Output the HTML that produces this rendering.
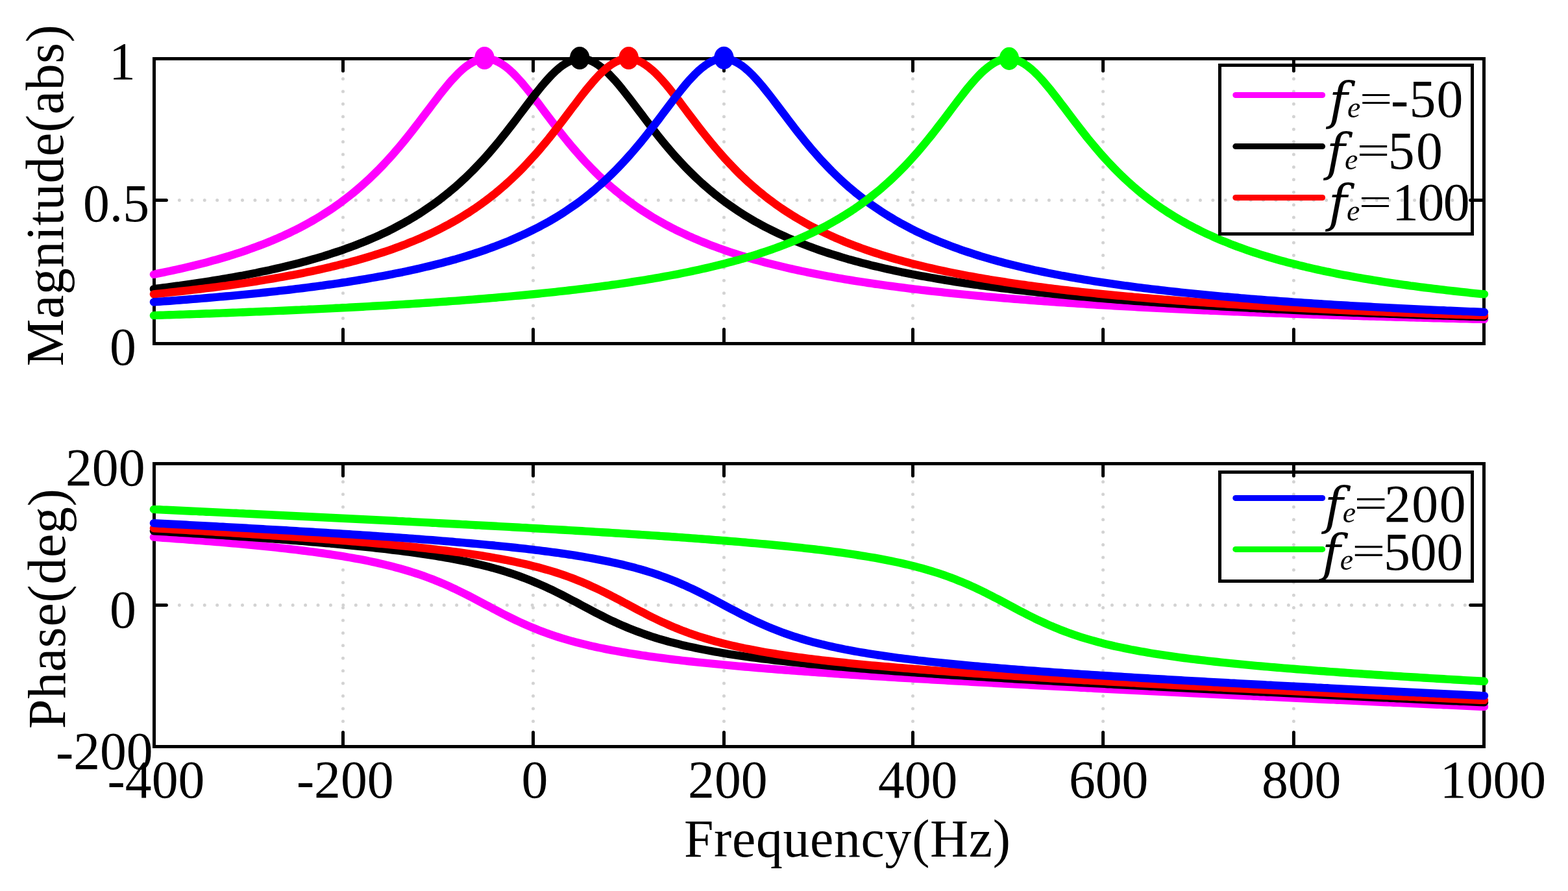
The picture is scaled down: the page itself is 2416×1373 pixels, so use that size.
<!DOCTYPE html>
<html lang="en"><head><meta charset="utf-8"><title>Frequency response</title>
<style>
html,body{margin:0;padding:0;background:#fff;}
body{width:2416px;height:1373px;overflow:hidden;}
svg{display:block;font-family:"Liberation Serif", "DejaVu Serif", serif;fill:#000;}
.it{font-style:italic;}
.fi{font-style:italic;font-family:"DejaVu Serif","Liberation Serif",serif;}
.g{stroke:#d3d3d3;stroke-width:5;stroke-linecap:round;stroke-dasharray:0 19.42;fill:none;}
.ax{stroke:#000;stroke-width:5;fill:none;}
.tk{stroke:#000;stroke-width:5;stroke-linecap:round;}
.ls{stroke-width:9;stroke-linecap:round;}
.cv polyline{fill:none;stroke-width:12.4;stroke-linecap:round;stroke-linejoin:round;}
</style></head>
<body>
<svg width="2416" height="1373" viewBox="0 0 2416 1373">
<rect width="2416" height="1373" fill="#fff"/>
<g id="mag">
<line x1="528.5" y1="121.50" x2="528.5" y2="490.98" class="g"/>
<line x1="821.5" y1="121.50" x2="821.5" y2="490.98" class="g"/>
<line x1="1115.5" y1="121.50" x2="1115.5" y2="490.98" class="g"/>
<line x1="1406.5" y1="121.50" x2="1406.5" y2="490.98" class="g"/>
<line x1="1699.6" y1="121.50" x2="1699.6" y2="490.98" class="g"/>
<line x1="1993.4" y1="121.50" x2="1993.4" y2="490.98" class="g"/>
<line x1="276.40" y1="308.5" x2="2257.74" y2="308.5" class="g"/>
<rect x="237.5" y="90.5" width="2049.0" height="439.0" class="ax"/>
<line x1="528.5" y1="90.5" x2="528.5" y2="109.2" class="tk"/>
<line x1="528.5" y1="529.5" x2="528.5" y2="507.5" class="tk"/>
<line x1="821.5" y1="90.5" x2="821.5" y2="109.2" class="tk"/>
<line x1="821.5" y1="529.5" x2="821.5" y2="507.5" class="tk"/>
<line x1="1115.5" y1="90.5" x2="1115.5" y2="109.2" class="tk"/>
<line x1="1115.5" y1="529.5" x2="1115.5" y2="507.5" class="tk"/>
<line x1="1406.5" y1="90.5" x2="1406.5" y2="109.2" class="tk"/>
<line x1="1406.5" y1="529.5" x2="1406.5" y2="507.5" class="tk"/>
<line x1="1699.6" y1="90.5" x2="1699.6" y2="109.2" class="tk"/>
<line x1="1699.6" y1="529.5" x2="1699.6" y2="507.5" class="tk"/>
<line x1="1993.4" y1="90.5" x2="1993.4" y2="109.2" class="tk"/>
<line x1="1993.4" y1="529.5" x2="1993.4" y2="507.5" class="tk"/>
<line x1="237.5" y1="308.5" x2="256.4" y2="308.5" class="tk"/>
<line x1="2286.5" y1="308.5" x2="2265.6" y2="308.5" class="tk"/>
<g class="cv">
<polyline stroke="#ff00ff" points="236.9,422.9 241.0,421.9 246.2,420.9 251.3,419.9 256.4,418.8 261.5,417.7 266.6,416.6 271.8,415.5 276.9,414.4 282.0,413.2 287.1,412.0 292.3,410.8 297.4,409.6 302.5,408.3 307.6,407.0 312.8,405.7 317.9,404.4 323.0,403.0 328.1,401.6 333.3,400.2 338.4,398.7 343.5,397.2 348.6,395.7 353.8,394.2 358.9,392.6 364.0,390.9 369.1,389.3 374.3,387.6 379.4,385.8 384.5,384.0 389.6,382.2 394.8,380.3 399.9,378.4 405.0,376.4 410.1,374.4 415.3,372.4 420.4,370.2 425.5,368.1 430.6,365.8 435.8,363.6 440.9,361.2 446.0,358.8 451.1,356.3 456.3,353.8 461.4,351.2 466.5,348.5 471.6,345.8 476.8,342.9 481.9,340.0 487.0,337.0 492.1,334.0 497.3,330.8 502.4,327.5 507.5,324.2 512.6,320.8 517.8,317.2 522.9,313.6 528.0,309.8 533.1,305.9 538.3,301.9 543.4,297.8 548.5,293.6 553.6,289.3 558.8,284.8 563.9,280.2 569.0,275.4 574.1,270.6 579.3,265.5 584.4,260.4 589.5,255.1 594.6,249.6 599.8,244.0 604.9,238.3 610.0,232.4 615.1,226.4 620.3,220.2 625.4,214.0 630.5,207.6 635.6,201.1 640.8,194.4 645.9,187.8 651.0,181.0 656.1,174.2 661.3,167.4 666.4,160.6 671.5,153.9 676.6,147.2 681.8,140.7 686.9,134.4 692.0,128.2 697.1,122.4 702.3,116.9 707.4,111.7 712.5,107.0 717.6,102.8 722.8,99.2 727.9,96.1 733.0,93.7 738.1,91.9 743.3,90.9 748.4,90.5 753.5,90.9 758.6,91.9 763.8,93.7 768.9,96.1 774.0,99.2 779.1,102.8 784.3,107.0 789.4,111.7 794.5,116.9 799.6,122.4 804.8,128.2 809.9,134.4 815.0,140.7 820.1,147.2 825.3,153.9 830.4,160.6 835.5,167.4 840.6,174.2 845.8,181.0 850.9,187.8 856.0,194.4 861.1,201.1 866.3,207.6 871.4,214.0 876.5,220.2 881.6,226.4 886.8,232.4 891.9,238.3 897.0,244.0 902.1,249.6 907.3,255.1 912.4,260.4 917.5,265.5 922.6,270.6 927.8,275.4 932.9,280.2 938.0,284.8 943.1,289.3 948.3,293.6 953.4,297.8 958.5,301.9 963.6,305.9 968.8,309.8 973.9,313.6 979.0,317.2 984.1,320.8 989.3,324.2 994.4,327.5 999.5,330.8 1004.6,334.0 1009.8,337.0 1014.9,340.0 1020.0,342.9 1025.2,345.8 1030.3,348.5 1035.4,351.2 1040.5,353.8 1045.7,356.3 1050.8,358.8 1055.9,361.2 1061.0,363.6 1066.2,365.8 1071.3,368.1 1076.4,370.2 1081.5,372.4 1086.7,374.4 1091.8,376.4 1096.9,378.4 1102.0,380.3 1107.2,382.2 1112.3,384.0 1117.4,385.8 1122.5,387.6 1127.7,389.3 1132.8,390.9 1137.9,392.6 1143.0,394.2 1148.2,395.7 1153.3,397.2 1158.4,398.7 1163.5,400.2 1168.7,401.6 1173.8,403.0 1178.9,404.4 1184.0,405.7 1189.2,407.0 1194.3,408.3 1199.4,409.6 1204.5,410.8 1209.7,412.0 1214.8,413.2 1219.9,414.4 1225.0,415.5 1230.2,416.6 1235.3,417.7 1240.4,418.8 1245.5,419.9 1250.7,420.9 1255.8,421.9 1260.9,422.9 1266.0,423.9 1271.2,424.9 1276.3,425.8 1281.4,426.7 1286.5,427.7 1291.7,428.6 1296.8,429.4 1301.9,430.3 1307.0,431.2 1312.2,432.0 1317.3,432.8 1322.4,433.6 1327.5,434.4 1332.7,435.2 1337.8,436.0 1342.9,436.7 1348.0,437.5 1353.2,438.2 1358.3,438.9 1363.4,439.7 1368.5,440.4 1373.7,441.0 1378.8,441.7 1383.9,442.4 1389.0,443.0 1394.2,443.7 1399.3,444.3 1404.4,445.0 1409.5,445.6 1414.7,446.2 1419.8,446.8 1424.9,447.4 1430.0,448.0 1435.2,448.6 1440.3,449.1 1445.4,449.7 1450.5,450.2 1455.7,450.8 1460.8,451.3 1465.9,451.9 1471.0,452.4 1476.2,452.9 1481.3,453.4 1486.4,453.9 1491.5,454.4 1496.7,454.9 1501.8,455.4 1506.9,455.9 1512.0,456.3 1517.2,456.8 1522.3,457.3 1527.4,457.7 1532.5,458.2 1537.7,458.6 1542.8,459.0 1547.9,459.5 1553.0,459.9 1558.2,460.3 1563.3,460.7 1568.4,461.1 1573.5,461.5 1578.7,461.9 1583.8,462.3 1588.9,462.7 1594.0,463.1 1599.2,463.5 1604.3,463.9 1609.4,464.3 1614.5,464.6 1619.7,465.0 1624.8,465.3 1629.9,465.7 1635.0,466.1 1640.2,466.4 1645.3,466.8 1650.4,467.1 1655.5,467.4 1660.7,467.8 1665.8,468.1 1670.9,468.4 1676.0,468.7 1681.2,469.1 1686.3,469.4 1691.4,469.7 1696.5,470.0 1701.7,470.3 1706.8,470.6 1711.9,470.9 1717.0,471.2 1722.2,471.5 1727.3,471.8 1732.4,472.1 1737.5,472.4 1742.7,472.6 1747.8,472.9 1752.9,473.2 1758.0,473.5 1763.2,473.8 1768.3,474.0 1773.4,474.3 1778.5,474.5 1783.7,474.8 1788.8,475.1 1793.9,475.3 1799.0,475.6 1804.2,475.8 1809.3,476.1 1814.4,476.3 1819.5,476.6 1824.7,476.8 1829.8,477.0 1834.9,477.3 1840.0,477.5 1845.2,477.8 1850.3,478.0 1855.4,478.2 1860.5,478.4 1865.7,478.7 1870.8,478.9 1875.9,479.1 1881.0,479.3 1886.2,479.5 1891.3,479.8 1896.4,480.0 1901.5,480.2 1906.7,480.4 1911.8,480.6 1916.9,480.8 1922.0,481.0 1927.2,481.2 1932.3,481.4 1937.4,481.6 1942.5,481.8 1947.7,482.0 1952.8,482.2 1957.9,482.4 1963.0,482.6 1968.2,482.8 1973.3,482.9 1978.4,483.1 1983.5,483.3 1988.7,483.5 1993.8,483.7 1998.9,483.9 2004.0,484.0 2009.2,484.2 2014.3,484.4 2019.4,484.6 2024.5,484.7 2029.7,484.9 2034.8,485.1 2039.9,485.2 2045.0,485.4 2050.2,485.6 2055.3,485.7 2060.4,485.9 2065.5,486.1 2070.7,486.2 2075.8,486.4 2080.9,486.6 2086.0,486.7 2091.2,486.9 2096.3,487.0 2101.4,487.2 2106.5,487.3 2111.7,487.5 2116.8,487.6 2121.9,487.8 2127.0,487.9 2132.2,488.1 2137.3,488.2 2142.4,488.4 2147.5,488.5 2152.7,488.7 2157.8,488.8 2162.9,488.9 2168.0,489.1 2173.2,489.2 2178.3,489.4 2183.4,489.5 2188.5,489.6 2193.7,489.8 2198.8,489.9 2203.9,490.0 2209.0,490.2 2214.2,490.3 2219.3,490.4 2224.4,490.6 2229.5,490.7 2234.7,490.8 2239.8,490.9 2244.9,491.1 2250.0,491.2 2255.2,491.3 2260.3,491.4 2265.4,491.6 2270.5,491.7 2275.7,491.8 2280.8,491.9 2287.0,492.0"/>
<polyline stroke="#000000" points="236.9,445.3 241.0,444.7 246.2,444.1 251.3,443.4 256.4,442.8 261.5,442.1 266.6,441.4 271.8,440.7 276.9,440.1 282.0,439.3 287.1,438.6 292.3,437.9 297.4,437.2 302.5,436.4 307.6,435.6 312.8,434.9 317.9,434.1 323.0,433.3 328.1,432.5 333.3,431.6 338.4,430.8 343.5,429.9 348.6,429.1 353.8,428.2 358.9,427.3 364.0,426.3 369.1,425.4 374.3,424.5 379.4,423.5 384.5,422.5 389.6,421.5 394.8,420.5 399.9,419.4 405.0,418.3 410.1,417.3 415.3,416.2 420.4,415.0 425.5,413.9 430.6,412.7 435.8,411.5 440.9,410.3 446.0,409.0 451.1,407.8 456.3,406.5 461.4,405.2 466.5,403.8 471.6,402.4 476.8,401.0 481.9,399.6 487.0,398.1 492.1,396.6 497.3,395.1 502.4,393.5 507.5,391.9 512.6,390.2 517.8,388.5 522.9,386.8 528.0,385.1 533.1,383.2 538.3,381.4 543.4,379.5 548.5,377.6 553.6,375.6 558.8,373.5 563.9,371.5 569.0,369.3 574.1,367.1 579.3,364.9 584.4,362.6 589.5,360.2 594.6,357.8 599.8,355.3 604.9,352.7 610.0,350.0 615.1,347.3 620.3,344.6 625.4,341.7 630.5,338.8 635.6,335.7 640.8,332.6 645.9,329.4 651.0,326.1 656.1,322.7 661.3,319.2 666.4,315.7 671.5,312.0 676.6,308.2 681.8,304.2 686.9,300.2 692.0,296.1 697.1,291.8 702.3,287.4 707.4,282.8 712.5,278.2 717.6,273.4 722.8,268.4 727.9,263.4 733.0,258.1 738.1,252.8 743.3,247.3 748.4,241.6 753.5,235.8 758.6,229.9 763.8,223.8 768.9,217.6 774.0,211.2 779.1,204.8 784.3,198.2 789.4,191.6 794.5,184.9 799.6,178.1 804.8,171.3 809.9,164.5 815.0,157.7 820.1,151.0 825.3,144.4 830.4,138.0 835.5,131.7 840.6,125.7 845.8,120.0 850.9,114.6 856.0,109.6 861.1,105.2 866.3,101.2 871.4,97.8 876.5,95.0 881.6,92.8 886.8,91.4 891.9,90.6 897.0,90.6 902.1,91.2 907.3,92.6 912.4,94.6 917.5,97.3 922.6,100.7 927.8,104.6 932.9,109.0 938.0,113.9 943.1,119.2 948.3,124.8 953.4,130.8 958.5,137.0 963.6,143.5 968.8,150.1 973.9,156.8 979.0,163.5 984.1,170.3 989.3,177.1 994.4,183.9 999.5,190.6 1004.6,197.3 1009.8,203.9 1014.9,210.3 1020.0,216.7 1025.2,222.9 1030.3,229.0 1035.4,235.0 1040.5,240.8 1045.7,246.5 1050.8,252.0 1055.9,257.4 1061.0,262.6 1066.2,267.7 1071.3,272.7 1076.4,277.5 1081.5,282.2 1086.7,286.7 1091.8,291.2 1096.9,295.4 1102.0,299.6 1107.2,303.7 1112.3,307.6 1117.4,311.4 1122.5,315.1 1127.7,318.7 1132.8,322.2 1137.9,325.6 1143.0,328.9 1148.2,332.2 1153.3,335.3 1158.4,338.3 1163.5,341.3 1168.7,344.2 1173.8,346.9 1178.9,349.7 1184.0,352.3 1189.2,354.9 1194.3,357.4 1199.4,359.8 1204.5,362.2 1209.7,364.5 1214.8,366.8 1219.9,369.0 1225.0,371.2 1230.2,373.2 1235.3,375.3 1240.4,377.3 1245.5,379.2 1250.7,381.1 1255.8,383.0 1260.9,384.8 1266.0,386.6 1271.2,388.3 1276.3,390.0 1281.4,391.6 1286.5,393.2 1291.7,394.8 1296.8,396.4 1301.9,397.9 1307.0,399.4 1312.2,400.8 1317.3,402.2 1322.4,403.6 1327.5,405.0 1332.7,406.3 1337.8,407.6 1342.9,408.9 1348.0,410.1 1353.2,411.3 1358.3,412.5 1363.4,413.7 1368.5,414.9 1373.7,416.0 1378.8,417.1 1383.9,418.2 1389.0,419.3 1394.2,420.3 1399.3,421.3 1404.4,422.4 1409.5,423.3 1414.7,424.3 1419.8,425.3 1424.9,426.2 1430.0,427.1 1435.2,428.0 1440.3,428.9 1445.4,429.8 1450.5,430.7 1455.7,431.5 1460.8,432.3 1465.9,433.2 1471.0,434.0 1476.2,434.8 1481.3,435.5 1486.4,436.3 1491.5,437.1 1496.7,437.8 1501.8,438.5 1506.9,439.2 1512.0,440.0 1517.2,440.6 1522.3,441.3 1527.4,442.0 1532.5,442.7 1537.7,443.3 1542.8,444.0 1547.9,444.6 1553.0,445.2 1558.2,445.9 1563.3,446.5 1568.4,447.1 1573.5,447.6 1578.7,448.2 1583.8,448.8 1588.9,449.4 1594.0,449.9 1599.2,450.5 1604.3,451.0 1609.4,451.6 1614.5,452.1 1619.7,452.6 1624.8,453.1 1629.9,453.6 1635.0,454.1 1640.2,454.6 1645.3,455.1 1650.4,455.6 1655.5,456.1 1660.7,456.5 1665.8,457.0 1670.9,457.4 1676.0,457.9 1681.2,458.3 1686.3,458.8 1691.4,459.2 1696.5,459.6 1701.7,460.1 1706.8,460.5 1711.9,460.9 1717.0,461.3 1722.2,461.7 1727.3,462.1 1732.4,462.5 1737.5,462.9 1742.7,463.3 1747.8,463.7 1752.9,464.0 1758.0,464.4 1763.2,464.8 1768.3,465.1 1773.4,465.5 1778.5,465.9 1783.7,466.2 1788.8,466.6 1793.9,466.9 1799.0,467.2 1804.2,467.6 1809.3,467.9 1814.4,468.2 1819.5,468.6 1824.7,468.9 1829.8,469.2 1834.9,469.5 1840.0,469.8 1845.2,470.1 1850.3,470.4 1855.4,470.7 1860.5,471.0 1865.7,471.3 1870.8,471.6 1875.9,471.9 1881.0,472.2 1886.2,472.5 1891.3,472.8 1896.4,473.0 1901.5,473.3 1906.7,473.6 1911.8,473.9 1916.9,474.1 1922.0,474.4 1927.2,474.7 1932.3,474.9 1937.4,475.2 1942.5,475.4 1947.7,475.7 1952.8,475.9 1957.9,476.2 1963.0,476.4 1968.2,476.7 1973.3,476.9 1978.4,477.1 1983.5,477.4 1988.7,477.6 1993.8,477.8 1998.9,478.1 2004.0,478.3 2009.2,478.5 2014.3,478.8 2019.4,479.0 2024.5,479.2 2029.7,479.4 2034.8,479.6 2039.9,479.8 2045.0,480.1 2050.2,480.3 2055.3,480.5 2060.4,480.7 2065.5,480.9 2070.7,481.1 2075.8,481.3 2080.9,481.5 2086.0,481.7 2091.2,481.9 2096.3,482.1 2101.4,482.3 2106.5,482.5 2111.7,482.7 2116.8,482.8 2121.9,483.0 2127.0,483.2 2132.2,483.4 2137.3,483.6 2142.4,483.8 2147.5,483.9 2152.7,484.1 2157.8,484.3 2162.9,484.5 2168.0,484.6 2173.2,484.8 2178.3,485.0 2183.4,485.2 2188.5,485.3 2193.7,485.5 2198.8,485.7 2203.9,485.8 2209.0,486.0 2214.2,486.1 2219.3,486.3 2224.4,486.5 2229.5,486.6 2234.7,486.8 2239.8,486.9 2244.9,487.1 2250.0,487.2 2255.2,487.4 2260.3,487.5 2265.4,487.7 2270.5,487.8 2275.7,488.0 2280.8,488.1 2287.0,488.3"/>
<polyline stroke="#ff0000" points="236.9,453.3 241.0,452.8 246.2,452.3 251.3,451.8 256.4,451.3 261.5,450.7 266.6,450.2 271.8,449.6 276.9,449.0 282.0,448.5 287.1,447.9 292.3,447.3 297.4,446.7 302.5,446.1 307.6,445.5 312.8,444.9 317.9,444.2 323.0,443.6 328.1,443.0 333.3,442.3 338.4,441.6 343.5,440.9 348.6,440.3 353.8,439.5 358.9,438.8 364.0,438.1 369.1,437.4 374.3,436.6 379.4,435.9 384.5,435.1 389.6,434.3 394.8,433.5 399.9,432.7 405.0,431.9 410.1,431.0 415.3,430.2 420.4,429.3 425.5,428.4 430.6,427.5 435.8,426.6 440.9,425.7 446.0,424.7 451.1,423.8 456.3,422.8 461.4,421.8 466.5,420.8 471.6,419.7 476.8,418.7 481.9,417.6 487.0,416.5 492.1,415.4 497.3,414.2 502.4,413.0 507.5,411.9 512.6,410.6 517.8,409.4 522.9,408.1 528.0,406.8 533.1,405.5 538.3,404.2 543.4,402.8 548.5,401.4 553.6,400.0 558.8,398.5 563.9,397.0 569.0,395.5 574.1,393.9 579.3,392.3 584.4,390.7 589.5,389.0 594.6,387.3 599.8,385.6 604.9,383.8 610.0,381.9 615.1,380.1 620.3,378.1 625.4,376.2 630.5,374.1 635.6,372.1 640.8,369.9 645.9,367.8 651.0,365.5 656.1,363.2 661.3,360.9 666.4,358.5 671.5,356.0 676.6,353.4 681.8,350.8 686.9,348.1 692.0,345.4 697.1,342.5 702.3,339.6 707.4,336.6 712.5,333.5 717.6,330.3 722.8,327.1 727.9,323.7 733.0,320.3 738.1,316.7 743.3,313.0 748.4,309.3 753.5,305.4 758.6,301.4 763.8,297.3 768.9,293.0 774.0,288.6 779.1,284.2 784.3,279.5 789.4,274.8 794.5,269.9 799.6,264.8 804.8,259.6 809.9,254.3 815.0,248.8 820.1,243.2 825.3,237.5 830.4,231.6 835.5,225.5 840.6,219.4 845.8,213.1 850.9,206.6 856.0,200.1 861.1,193.5 866.3,186.8 871.4,180.0 876.5,173.2 881.6,166.4 886.8,159.7 891.9,152.9 897.0,146.3 902.1,139.8 907.3,133.5 912.4,127.4 917.5,121.6 922.6,116.1 927.8,111.0 932.9,106.4 938.0,102.3 943.1,98.7 948.3,95.7 953.4,93.4 958.5,91.7 963.6,90.8 968.8,90.5 973.9,91.0 979.0,92.1 984.1,94.0 989.3,96.5 994.4,99.7 999.5,103.4 1004.6,107.7 1009.8,112.4 1014.9,117.6 1020.0,123.2 1025.2,129.1 1030.3,135.2 1035.4,141.6 1040.5,148.2 1045.7,154.8 1050.8,161.6 1055.9,168.4 1061.0,175.2 1066.2,182.0 1071.3,188.7 1076.4,195.4 1081.5,202.0 1086.7,208.5 1091.8,214.9 1096.9,221.1 1102.0,227.3 1107.2,233.3 1112.3,239.1 1117.4,244.8 1122.5,250.4 1127.7,255.8 1132.8,261.1 1137.9,266.3 1143.0,271.3 1148.2,276.1 1153.3,280.9 1158.4,285.4 1163.5,289.9 1168.7,294.2 1173.8,298.4 1178.9,302.5 1184.0,306.5 1189.2,310.3 1194.3,314.1 1199.4,317.7 1204.5,321.3 1209.7,324.7 1214.8,328.0 1219.9,331.3 1225.0,334.4 1230.2,337.5 1235.3,340.4 1240.4,343.3 1245.5,346.2 1250.7,348.9 1255.8,351.6 1260.9,354.2 1266.0,356.7 1271.2,359.1 1276.3,361.5 1281.4,363.9 1286.5,366.2 1291.7,368.4 1296.8,370.5 1301.9,372.7 1307.0,374.7 1312.2,376.7 1317.3,378.7 1322.4,380.6 1327.5,382.5 1332.7,384.3 1337.8,386.1 1342.9,387.8 1348.0,389.5 1353.2,391.2 1358.3,392.8 1363.4,394.4 1368.5,395.9 1373.7,397.5 1378.8,398.9 1383.9,400.4 1389.0,401.8 1394.2,403.2 1399.3,404.6 1404.4,405.9 1409.5,407.2 1414.7,408.5 1419.8,409.8 1424.9,411.0 1430.0,412.2 1435.2,413.4 1440.3,414.5 1445.4,415.7 1450.5,416.8 1455.7,417.9 1460.8,419.0 1465.9,420.0 1471.0,421.0 1476.2,422.1 1481.3,423.1 1486.4,424.0 1491.5,425.0 1496.7,425.9 1501.8,426.9 1506.9,427.8 1512.0,428.7 1517.2,429.6 1522.3,430.4 1527.4,431.3 1532.5,432.1 1537.7,432.9 1542.8,433.7 1547.9,434.5 1553.0,435.3 1558.2,436.1 1563.3,436.8 1568.4,437.6 1573.5,438.3 1578.7,439.0 1583.8,439.8 1588.9,440.5 1594.0,441.1 1599.2,441.8 1604.3,442.5 1609.4,443.1 1614.5,443.8 1619.7,444.4 1624.8,445.1 1629.9,445.7 1635.0,446.3 1640.2,446.9 1645.3,447.5 1650.4,448.1 1655.5,448.6 1660.7,449.2 1665.8,449.8 1670.9,450.3 1676.0,450.9 1681.2,451.4 1686.3,451.9 1691.4,452.5 1696.5,453.0 1701.7,453.5 1706.8,454.0 1711.9,454.5 1717.0,455.0 1722.2,455.5 1727.3,455.9 1732.4,456.4 1737.5,456.9 1742.7,457.3 1747.8,457.8 1752.9,458.2 1758.0,458.7 1763.2,459.1 1768.3,459.5 1773.4,460.0 1778.5,460.4 1783.7,460.8 1788.8,461.2 1793.9,461.6 1799.0,462.0 1804.2,462.4 1809.3,462.8 1814.4,463.2 1819.5,463.6 1824.7,463.9 1829.8,464.3 1834.9,464.7 1840.0,465.0 1845.2,465.4 1850.3,465.8 1855.4,466.1 1860.5,466.5 1865.7,466.8 1870.8,467.1 1875.9,467.5 1881.0,467.8 1886.2,468.1 1891.3,468.5 1896.4,468.8 1901.5,469.1 1906.7,469.4 1911.8,469.7 1916.9,470.0 1922.0,470.4 1927.2,470.7 1932.3,471.0 1937.4,471.3 1942.5,471.5 1947.7,471.8 1952.8,472.1 1957.9,472.4 1963.0,472.7 1968.2,473.0 1973.3,473.2 1978.4,473.5 1983.5,473.8 1988.7,474.1 1993.8,474.3 1998.9,474.6 2004.0,474.8 2009.2,475.1 2014.3,475.4 2019.4,475.6 2024.5,475.9 2029.7,476.1 2034.8,476.4 2039.9,476.6 2045.0,476.8 2050.2,477.1 2055.3,477.3 2060.4,477.6 2065.5,477.8 2070.7,478.0 2075.8,478.2 2080.9,478.5 2086.0,478.7 2091.2,478.9 2096.3,479.1 2101.4,479.4 2106.5,479.6 2111.7,479.8 2116.8,480.0 2121.9,480.2 2127.0,480.4 2132.2,480.6 2137.3,480.8 2142.4,481.0 2147.5,481.2 2152.7,481.4 2157.8,481.6 2162.9,481.8 2168.0,482.0 2173.2,482.2 2178.3,482.4 2183.4,482.6 2188.5,482.8 2193.7,483.0 2198.8,483.2 2203.9,483.3 2209.0,483.5 2214.2,483.7 2219.3,483.9 2224.4,484.1 2229.5,484.2 2234.7,484.4 2239.8,484.6 2244.9,484.8 2250.0,484.9 2255.2,485.1 2260.3,485.3 2265.4,485.4 2270.5,485.6 2275.7,485.8 2280.8,485.9 2287.0,486.1"/>
<polyline stroke="#0000ff" points="236.9,465.5 241.0,465.1 246.2,464.8 251.3,464.4 256.4,464.0 261.5,463.7 266.6,463.3 271.8,462.9 276.9,462.5 282.0,462.1 287.1,461.7 292.3,461.3 297.4,460.9 302.5,460.5 307.6,460.1 312.8,459.6 317.9,459.2 323.0,458.8 328.1,458.3 333.3,457.9 338.4,457.4 343.5,457.0 348.6,456.5 353.8,456.1 358.9,455.6 364.0,455.1 369.1,454.6 374.3,454.1 379.4,453.6 384.5,453.1 389.6,452.6 394.8,452.1 399.9,451.6 405.0,451.0 410.1,450.5 415.3,449.9 420.4,449.4 425.5,448.8 430.6,448.2 435.8,447.6 440.9,447.1 446.0,446.5 451.1,445.9 456.3,445.2 461.4,444.6 466.5,444.0 471.6,443.3 476.8,442.7 481.9,442.0 487.0,441.3 492.1,440.6 497.3,440.0 502.4,439.2 507.5,438.5 512.6,437.8 517.8,437.1 522.9,436.3 528.0,435.5 533.1,434.8 538.3,434.0 543.4,433.2 548.5,432.3 553.6,431.5 558.8,430.7 563.9,429.8 569.0,428.9 574.1,428.0 579.3,427.1 584.4,426.2 589.5,425.3 594.6,424.3 599.8,423.3 604.9,422.4 610.0,421.3 615.1,420.3 620.3,419.3 625.4,418.2 630.5,417.1 635.6,416.0 640.8,414.9 645.9,413.7 651.0,412.5 656.1,411.3 661.3,410.1 666.4,408.9 671.5,407.6 676.6,406.3 681.8,405.0 686.9,403.6 692.0,402.2 697.1,400.8 702.3,399.4 707.4,397.9 712.5,396.4 717.6,394.8 722.8,393.2 727.9,391.6 733.0,390.0 738.1,388.3 743.3,386.6 748.4,384.8 753.5,383.0 758.6,381.1 763.8,379.2 768.9,377.3 774.0,375.3 779.1,373.2 784.3,371.2 789.4,369.0 794.5,366.8 799.6,364.5 804.8,362.2 809.9,359.8 815.0,357.4 820.1,354.9 825.3,352.3 830.4,349.7 835.5,346.9 840.6,344.2 845.8,341.3 850.9,338.3 856.0,335.3 861.1,332.2 866.3,328.9 871.4,325.6 876.5,322.2 881.6,318.7 886.8,315.1 891.9,311.4 897.0,307.6 902.1,303.7 907.3,299.6 912.4,295.4 917.5,291.2 922.6,286.7 927.8,282.2 932.9,277.5 938.0,272.7 943.1,267.7 948.3,262.6 953.4,257.4 958.5,252.0 963.6,246.5 968.8,240.8 973.9,235.0 979.0,229.0 984.1,222.9 989.3,216.7 994.4,210.3 999.5,203.9 1004.6,197.3 1009.8,190.6 1014.9,183.9 1020.0,177.1 1025.2,170.3 1030.3,163.5 1035.4,156.8 1040.5,150.1 1045.7,143.5 1050.8,137.0 1055.9,130.8 1061.0,124.8 1066.2,119.2 1071.3,113.9 1076.4,109.0 1081.5,104.6 1086.7,100.7 1091.8,97.3 1096.9,94.6 1102.0,92.6 1107.2,91.2 1112.3,90.6 1117.4,90.6 1122.5,91.4 1127.7,92.8 1132.8,95.0 1137.9,97.8 1143.0,101.2 1148.2,105.2 1153.3,109.6 1158.4,114.6 1163.5,120.0 1168.7,125.7 1173.8,131.7 1178.9,138.0 1184.0,144.4 1189.2,151.0 1194.3,157.7 1199.4,164.5 1204.5,171.3 1209.7,178.1 1214.8,184.9 1219.9,191.6 1225.0,198.2 1230.2,204.8 1235.3,211.2 1240.4,217.6 1245.5,223.8 1250.7,229.9 1255.8,235.8 1260.9,241.6 1266.0,247.3 1271.2,252.8 1276.3,258.1 1281.4,263.4 1286.5,268.4 1291.7,273.4 1296.8,278.2 1301.9,282.8 1307.0,287.4 1312.2,291.8 1317.3,296.1 1322.4,300.2 1327.5,304.2 1332.7,308.2 1337.8,312.0 1342.9,315.7 1348.0,319.2 1353.2,322.7 1358.3,326.1 1363.4,329.4 1368.5,332.6 1373.7,335.7 1378.8,338.8 1383.9,341.7 1389.0,344.6 1394.2,347.3 1399.3,350.0 1404.4,352.7 1409.5,355.3 1414.7,357.8 1419.8,360.2 1424.9,362.6 1430.0,364.9 1435.2,367.1 1440.3,369.3 1445.4,371.5 1450.5,373.5 1455.7,375.6 1460.8,377.6 1465.9,379.5 1471.0,381.4 1476.2,383.2 1481.3,385.1 1486.4,386.8 1491.5,388.5 1496.7,390.2 1501.8,391.9 1506.9,393.5 1512.0,395.1 1517.2,396.6 1522.3,398.1 1527.4,399.6 1532.5,401.0 1537.7,402.4 1542.8,403.8 1547.9,405.2 1553.0,406.5 1558.2,407.8 1563.3,409.0 1568.4,410.3 1573.5,411.5 1578.7,412.7 1583.8,413.9 1588.9,415.0 1594.0,416.2 1599.2,417.3 1604.3,418.3 1609.4,419.4 1614.5,420.5 1619.7,421.5 1624.8,422.5 1629.9,423.5 1635.0,424.5 1640.2,425.4 1645.3,426.3 1650.4,427.3 1655.5,428.2 1660.7,429.1 1665.8,429.9 1670.9,430.8 1676.0,431.6 1681.2,432.5 1686.3,433.3 1691.4,434.1 1696.5,434.9 1701.7,435.6 1706.8,436.4 1711.9,437.2 1717.0,437.9 1722.2,438.6 1727.3,439.3 1732.4,440.1 1737.5,440.7 1742.7,441.4 1747.8,442.1 1752.9,442.8 1758.0,443.4 1763.2,444.1 1768.3,444.7 1773.4,445.3 1778.5,445.9 1783.7,446.5 1788.8,447.1 1793.9,447.7 1799.0,448.3 1804.2,448.9 1809.3,449.5 1814.4,450.0 1819.5,450.6 1824.7,451.1 1829.8,451.6 1834.9,452.2 1840.0,452.7 1845.2,453.2 1850.3,453.7 1855.4,454.2 1860.5,454.7 1865.7,455.2 1870.8,455.7 1875.9,456.1 1881.0,456.6 1886.2,457.1 1891.3,457.5 1896.4,458.0 1901.5,458.4 1906.7,458.8 1911.8,459.3 1916.9,459.7 1922.0,460.1 1927.2,460.6 1932.3,461.0 1937.4,461.4 1942.5,461.8 1947.7,462.2 1952.8,462.6 1957.9,463.0 1963.0,463.3 1968.2,463.7 1973.3,464.1 1978.4,464.5 1983.5,464.8 1988.7,465.2 1993.8,465.6 1998.9,465.9 2004.0,466.3 2009.2,466.6 2014.3,466.9 2019.4,467.3 2024.5,467.6 2029.7,468.0 2034.8,468.3 2039.9,468.6 2045.0,468.9 2050.2,469.2 2055.3,469.6 2060.4,469.9 2065.5,470.2 2070.7,470.5 2075.8,470.8 2080.9,471.1 2086.0,471.4 2091.2,471.7 2096.3,472.0 2101.4,472.2 2106.5,472.5 2111.7,472.8 2116.8,473.1 2121.9,473.4 2127.0,473.6 2132.2,473.9 2137.3,474.2 2142.4,474.4 2147.5,474.7 2152.7,475.0 2157.8,475.2 2162.9,475.5 2168.0,475.7 2173.2,476.0 2178.3,476.2 2183.4,476.5 2188.5,476.7 2193.7,476.9 2198.8,477.2 2203.9,477.4 2209.0,477.7 2214.2,477.9 2219.3,478.1 2224.4,478.3 2229.5,478.6 2234.7,478.8 2239.8,479.0 2244.9,479.2 2250.0,479.4 2255.2,479.7 2260.3,479.9 2265.4,480.1 2270.5,480.3 2275.7,480.5 2280.8,480.7 2287.0,480.9"/>
<polyline stroke="#00ff00" points="236.9,486.1 241.0,485.9 246.2,485.8 251.3,485.6 256.4,485.4 261.5,485.3 266.6,485.1 271.8,484.9 276.9,484.8 282.0,484.6 287.1,484.4 292.3,484.2 297.4,484.1 302.5,483.9 307.6,483.7 312.8,483.5 317.9,483.3 323.0,483.2 328.1,483.0 333.3,482.8 338.4,482.6 343.5,482.4 348.6,482.2 353.8,482.0 358.9,481.8 364.0,481.6 369.1,481.4 374.3,481.2 379.4,481.0 384.5,480.8 389.6,480.6 394.8,480.4 399.9,480.2 405.0,480.0 410.1,479.8 415.3,479.6 420.4,479.4 425.5,479.1 430.6,478.9 435.8,478.7 440.9,478.5 446.0,478.2 451.1,478.0 456.3,477.8 461.4,477.6 466.5,477.3 471.6,477.1 476.8,476.8 481.9,476.6 487.0,476.4 492.1,476.1 497.3,475.9 502.4,475.6 507.5,475.4 512.6,475.1 517.8,474.8 522.9,474.6 528.0,474.3 533.1,474.1 538.3,473.8 543.4,473.5 548.5,473.2 553.6,473.0 558.8,472.7 563.9,472.4 569.0,472.1 574.1,471.8 579.3,471.5 584.4,471.3 589.5,471.0 594.6,470.7 599.8,470.4 604.9,470.0 610.0,469.7 615.1,469.4 620.3,469.1 625.4,468.8 630.5,468.5 635.6,468.1 640.8,467.8 645.9,467.5 651.0,467.1 656.1,466.8 661.3,466.5 666.4,466.1 671.5,465.8 676.6,465.4 681.8,465.0 686.9,464.7 692.0,464.3 697.1,463.9 702.3,463.6 707.4,463.2 712.5,462.8 717.6,462.4 722.8,462.0 727.9,461.6 733.0,461.2 738.1,460.8 743.3,460.4 748.4,460.0 753.5,459.5 758.6,459.1 763.8,458.7 768.9,458.2 774.0,457.8 779.1,457.3 784.3,456.9 789.4,456.4 794.5,455.9 799.6,455.5 804.8,455.0 809.9,454.5 815.0,454.0 820.1,453.5 825.3,453.0 830.4,452.5 835.5,451.9 840.6,451.4 845.8,450.9 850.9,450.3 856.0,449.8 861.1,449.2 866.3,448.6 871.4,448.1 876.5,447.5 881.6,446.9 886.8,446.3 891.9,445.7 897.0,445.1 902.1,444.4 907.3,443.8 912.4,443.1 917.5,442.5 922.6,441.8 927.8,441.1 932.9,440.5 938.0,439.8 943.1,439.0 948.3,438.3 953.4,437.6 958.5,436.8 963.6,436.1 968.8,435.3 973.9,434.5 979.0,433.7 984.1,432.9 989.3,432.1 994.4,431.3 999.5,430.4 1004.6,429.6 1009.8,428.7 1014.9,427.8 1020.0,426.9 1025.2,425.9 1030.3,425.0 1035.4,424.0 1040.5,423.1 1045.7,422.1 1050.8,421.0 1055.9,420.0 1061.0,419.0 1066.2,417.9 1071.3,416.8 1076.4,415.7 1081.5,414.5 1086.7,413.4 1091.8,412.2 1096.9,411.0 1102.0,409.8 1107.2,408.5 1112.3,407.2 1117.4,405.9 1122.5,404.6 1127.7,403.2 1132.8,401.8 1137.9,400.4 1143.0,398.9 1148.2,397.5 1153.3,395.9 1158.4,394.4 1163.5,392.8 1168.7,391.2 1173.8,389.5 1178.9,387.8 1184.0,386.1 1189.2,384.3 1194.3,382.5 1199.4,380.6 1204.5,378.7 1209.7,376.7 1214.8,374.7 1219.9,372.7 1225.0,370.5 1230.2,368.4 1235.3,366.2 1240.4,363.9 1245.5,361.5 1250.7,359.1 1255.8,356.7 1260.9,354.2 1266.0,351.6 1271.2,348.9 1276.3,346.2 1281.4,343.3 1286.5,340.4 1291.7,337.5 1296.8,334.4 1301.9,331.3 1307.0,328.0 1312.2,324.7 1317.3,321.3 1322.4,317.7 1327.5,314.1 1332.7,310.3 1337.8,306.5 1342.9,302.5 1348.0,298.4 1353.2,294.2 1358.3,289.9 1363.4,285.4 1368.5,280.9 1373.7,276.1 1378.8,271.3 1383.9,266.3 1389.0,261.1 1394.2,255.8 1399.3,250.4 1404.4,244.8 1409.5,239.1 1414.7,233.3 1419.8,227.3 1424.9,221.1 1430.0,214.9 1435.2,208.5 1440.3,202.0 1445.4,195.4 1450.5,188.7 1455.7,182.0 1460.8,175.2 1465.9,168.4 1471.0,161.6 1476.2,154.8 1481.3,148.2 1486.4,141.6 1491.5,135.2 1496.7,129.1 1501.8,123.2 1506.9,117.6 1512.0,112.4 1517.2,107.7 1522.3,103.4 1527.4,99.7 1532.5,96.5 1537.7,94.0 1542.8,92.1 1547.9,91.0 1553.0,90.5 1558.2,90.8 1563.3,91.7 1568.4,93.4 1573.5,95.7 1578.7,98.7 1583.8,102.3 1588.9,106.4 1594.0,111.0 1599.2,116.1 1604.3,121.6 1609.4,127.4 1614.5,133.5 1619.7,139.8 1624.8,146.3 1629.9,152.9 1635.0,159.7 1640.2,166.4 1645.3,173.2 1650.4,180.0 1655.5,186.8 1660.7,193.5 1665.8,200.1 1670.9,206.6 1676.0,213.1 1681.2,219.4 1686.3,225.5 1691.4,231.6 1696.5,237.5 1701.7,243.2 1706.8,248.8 1711.9,254.3 1717.0,259.6 1722.2,264.8 1727.3,269.9 1732.4,274.8 1737.5,279.5 1742.7,284.2 1747.8,288.6 1752.9,293.0 1758.0,297.3 1763.2,301.4 1768.3,305.4 1773.4,309.3 1778.5,313.0 1783.7,316.7 1788.8,320.3 1793.9,323.7 1799.0,327.1 1804.2,330.3 1809.3,333.5 1814.4,336.6 1819.5,339.6 1824.7,342.5 1829.8,345.4 1834.9,348.1 1840.0,350.8 1845.2,353.4 1850.3,356.0 1855.4,358.5 1860.5,360.9 1865.7,363.2 1870.8,365.5 1875.9,367.8 1881.0,369.9 1886.2,372.1 1891.3,374.1 1896.4,376.2 1901.5,378.1 1906.7,380.1 1911.8,381.9 1916.9,383.8 1922.0,385.6 1927.2,387.3 1932.3,389.0 1937.4,390.7 1942.5,392.3 1947.7,393.9 1952.8,395.5 1957.9,397.0 1963.0,398.5 1968.2,400.0 1973.3,401.4 1978.4,402.8 1983.5,404.2 1988.7,405.5 1993.8,406.8 1998.9,408.1 2004.0,409.4 2009.2,410.6 2014.3,411.9 2019.4,413.0 2024.5,414.2 2029.7,415.4 2034.8,416.5 2039.9,417.6 2045.0,418.7 2050.2,419.7 2055.3,420.8 2060.4,421.8 2065.5,422.8 2070.7,423.8 2075.8,424.7 2080.9,425.7 2086.0,426.6 2091.2,427.5 2096.3,428.4 2101.4,429.3 2106.5,430.2 2111.7,431.0 2116.8,431.9 2121.9,432.7 2127.0,433.5 2132.2,434.3 2137.3,435.1 2142.4,435.9 2147.5,436.6 2152.7,437.4 2157.8,438.1 2162.9,438.8 2168.0,439.5 2173.2,440.3 2178.3,440.9 2183.4,441.6 2188.5,442.3 2193.7,443.0 2198.8,443.6 2203.9,444.2 2209.0,444.9 2214.2,445.5 2219.3,446.1 2224.4,446.7 2229.5,447.3 2234.7,447.9 2239.8,448.5 2244.9,449.0 2250.0,449.6 2255.2,450.2 2260.3,450.7 2265.4,451.3 2270.5,451.8 2275.7,452.3 2280.8,452.8 2287.0,453.3"/>
</g>
<ellipse cx="746.5" cy="89.5" rx="15.2" ry="17.6" fill="#ff00ff"/>
<ellipse cx="893.2" cy="89.5" rx="15.2" ry="17.6" fill="#000000"/>
<ellipse cx="968.7" cy="89.5" rx="15.2" ry="17.6" fill="#ff0000"/>
<ellipse cx="1115.4" cy="89.3" rx="15.2" ry="17.6" fill="#0000ff"/>
<ellipse cx="1554.9" cy="90.4" rx="15.2" ry="17.6" fill="#00ff00"/>
</g>
<g id="phase">
<line x1="528.5" y1="742.40" x2="528.5" y2="1111.88" class="g"/>
<line x1="821.5" y1="742.40" x2="821.5" y2="1111.88" class="g"/>
<line x1="1115.5" y1="742.40" x2="1115.5" y2="1111.88" class="g"/>
<line x1="1406.5" y1="742.40" x2="1406.5" y2="1111.88" class="g"/>
<line x1="1699.6" y1="742.40" x2="1699.6" y2="1111.88" class="g"/>
<line x1="1993.4" y1="742.40" x2="1993.4" y2="1111.88" class="g"/>
<line x1="276.40" y1="932.5" x2="2257.74" y2="932.5" class="g"/>
<rect x="237.5" y="714.5" width="2049.0" height="436.0" class="ax"/>
<line x1="528.5" y1="714.5" x2="528.5" y2="733.2" class="tk"/>
<line x1="528.5" y1="1150.5" x2="528.5" y2="1128.5" class="tk"/>
<line x1="821.5" y1="714.5" x2="821.5" y2="733.2" class="tk"/>
<line x1="821.5" y1="1150.5" x2="821.5" y2="1128.5" class="tk"/>
<line x1="1115.5" y1="714.5" x2="1115.5" y2="733.2" class="tk"/>
<line x1="1115.5" y1="1150.5" x2="1115.5" y2="1128.5" class="tk"/>
<line x1="1406.5" y1="714.5" x2="1406.5" y2="733.2" class="tk"/>
<line x1="1406.5" y1="1150.5" x2="1406.5" y2="1128.5" class="tk"/>
<line x1="1699.6" y1="714.5" x2="1699.6" y2="733.2" class="tk"/>
<line x1="1699.6" y1="1150.5" x2="1699.6" y2="1128.5" class="tk"/>
<line x1="1993.4" y1="714.5" x2="1993.4" y2="733.2" class="tk"/>
<line x1="1993.4" y1="1150.5" x2="1993.4" y2="1128.5" class="tk"/>
<line x1="237.5" y1="932.5" x2="256.4" y2="932.5" class="tk"/>
<line x1="2286.5" y1="932.5" x2="2265.6" y2="932.5" class="tk"/>
<g class="cv">
<polyline stroke="#ff00ff" points="236.9,827.6 241.0,827.9 246.2,828.3 251.3,828.7 256.4,829.0 261.5,829.4 266.6,829.8 271.8,830.2 276.9,830.6 282.0,830.9 287.1,831.3 292.3,831.7 297.4,832.1 302.5,832.5 307.6,832.9 312.8,833.3 317.9,833.7 323.0,834.2 328.1,834.6 333.3,835.0 338.4,835.4 343.5,835.9 348.6,836.3 353.8,836.8 358.9,837.2 364.0,837.7 369.1,838.1 374.3,838.6 379.4,839.1 384.5,839.6 389.6,840.1 394.8,840.6 399.9,841.1 405.0,841.6 410.1,842.1 415.3,842.6 420.4,843.2 425.5,843.7 430.6,844.3 435.8,844.8 440.9,845.4 446.0,846.0 451.1,846.6 456.3,847.2 461.4,847.8 466.5,848.5 471.6,849.1 476.8,849.8 481.9,850.4 487.0,851.1 492.1,851.8 497.3,852.5 502.4,853.3 507.5,854.0 512.6,854.8 517.8,855.6 522.9,856.4 528.0,857.2 533.1,858.1 538.3,859.0 543.4,859.9 548.5,860.8 553.6,861.7 558.8,862.7 563.9,863.7 569.0,864.8 574.1,865.8 579.3,866.9 584.4,868.1 589.5,869.2 594.6,870.5 599.8,871.7 604.9,873.0 610.0,874.4 615.1,875.7 620.3,877.2 625.4,878.7 630.5,880.2 635.6,881.8 640.8,883.5 645.9,885.2 651.0,886.9 656.1,888.8 661.3,890.7 666.4,892.6 671.5,894.7 676.6,896.8 681.8,898.9 686.9,901.1 692.0,903.4 697.1,905.8 702.3,908.2 707.4,910.7 712.5,913.2 717.6,915.8 722.8,918.4 727.9,921.0 733.0,923.7 738.1,926.4 743.3,929.2 748.4,931.9 753.5,934.6 758.6,937.4 763.8,940.1 768.9,942.8 774.0,945.4 779.1,948.0 784.3,950.6 789.4,953.1 794.5,955.6 799.6,958.0 804.8,960.4 809.9,962.7 815.0,964.9 820.1,967.0 825.3,969.1 830.4,971.2 835.5,973.1 840.6,975.0 845.8,976.9 850.9,978.6 856.0,980.3 861.1,982.0 866.3,983.6 871.4,985.1 876.5,986.6 881.6,988.1 886.8,989.4 891.9,990.8 897.0,992.1 902.1,993.3 907.3,994.6 912.4,995.7 917.5,996.9 922.6,998.0 927.8,999.0 932.9,1000.1 938.0,1001.1 943.1,1002.1 948.3,1003.0 953.4,1003.9 958.5,1004.8 963.6,1005.7 968.8,1006.6 973.9,1007.4 979.0,1008.2 984.1,1009.0 989.3,1009.8 994.4,1010.5 999.5,1011.3 1004.6,1012.0 1009.8,1012.7 1014.9,1013.4 1020.0,1014.0 1025.2,1014.7 1030.3,1015.3 1035.4,1016.0 1040.5,1016.6 1045.7,1017.2 1050.8,1017.8 1055.9,1018.4 1061.0,1019.0 1066.2,1019.5 1071.3,1020.1 1076.4,1020.6 1081.5,1021.2 1086.7,1021.7 1091.8,1022.2 1096.9,1022.7 1102.0,1023.2 1107.2,1023.7 1112.3,1024.2 1117.4,1024.7 1122.5,1025.2 1127.7,1025.7 1132.8,1026.1 1137.9,1026.6 1143.0,1027.0 1148.2,1027.5 1153.3,1027.9 1158.4,1028.4 1163.5,1028.8 1168.7,1029.2 1173.8,1029.6 1178.9,1030.1 1184.0,1030.5 1189.2,1030.9 1194.3,1031.3 1199.4,1031.7 1204.5,1032.1 1209.7,1032.5 1214.8,1032.9 1219.9,1033.2 1225.0,1033.6 1230.2,1034.0 1235.3,1034.4 1240.4,1034.8 1245.5,1035.1 1250.7,1035.5 1255.8,1035.9 1260.9,1036.2 1266.0,1036.6 1271.2,1036.9 1276.3,1037.3 1281.4,1037.6 1286.5,1038.0 1291.7,1038.3 1296.8,1038.7 1301.9,1039.0 1307.0,1039.3 1312.2,1039.7 1317.3,1040.0 1322.4,1040.3 1327.5,1040.7 1332.7,1041.0 1337.8,1041.3 1342.9,1041.7 1348.0,1042.0 1353.2,1042.3 1358.3,1042.6 1363.4,1042.9 1368.5,1043.3 1373.7,1043.6 1378.8,1043.9 1383.9,1044.2 1389.0,1044.5 1394.2,1044.8 1399.3,1045.1 1404.4,1045.4 1409.5,1045.7 1414.7,1046.0 1419.8,1046.3 1424.9,1046.6 1430.0,1046.9 1435.2,1047.2 1440.3,1047.5 1445.4,1047.8 1450.5,1048.1 1455.7,1048.4 1460.8,1048.7 1465.9,1049.0 1471.0,1049.3 1476.2,1049.6 1481.3,1049.9 1486.4,1050.1 1491.5,1050.4 1496.7,1050.7 1501.8,1051.0 1506.9,1051.3 1512.0,1051.6 1517.2,1051.8 1522.3,1052.1 1527.4,1052.4 1532.5,1052.7 1537.7,1053.0 1542.8,1053.2 1547.9,1053.5 1553.0,1053.8 1558.2,1054.1 1563.3,1054.3 1568.4,1054.6 1573.5,1054.9 1578.7,1055.1 1583.8,1055.4 1588.9,1055.7 1594.0,1056.0 1599.2,1056.2 1604.3,1056.5 1609.4,1056.8 1614.5,1057.0 1619.7,1057.3 1624.8,1057.6 1629.9,1057.8 1635.0,1058.1 1640.2,1058.4 1645.3,1058.6 1650.4,1058.9 1655.5,1059.1 1660.7,1059.4 1665.8,1059.7 1670.9,1059.9 1676.0,1060.2 1681.2,1060.4 1686.3,1060.7 1691.4,1061.0 1696.5,1061.2 1701.7,1061.5 1706.8,1061.7 1711.9,1062.0 1717.0,1062.2 1722.2,1062.5 1727.3,1062.8 1732.4,1063.0 1737.5,1063.3 1742.7,1063.5 1747.8,1063.8 1752.9,1064.0 1758.0,1064.3 1763.2,1064.5 1768.3,1064.8 1773.4,1065.0 1778.5,1065.3 1783.7,1065.5 1788.8,1065.8 1793.9,1066.0 1799.0,1066.3 1804.2,1066.5 1809.3,1066.8 1814.4,1067.0 1819.5,1067.3 1824.7,1067.5 1829.8,1067.8 1834.9,1068.0 1840.0,1068.3 1845.2,1068.5 1850.3,1068.8 1855.4,1069.0 1860.5,1069.3 1865.7,1069.5 1870.8,1069.8 1875.9,1070.0 1881.0,1070.3 1886.2,1070.5 1891.3,1070.7 1896.4,1071.0 1901.5,1071.2 1906.7,1071.5 1911.8,1071.7 1916.9,1072.0 1922.0,1072.2 1927.2,1072.4 1932.3,1072.7 1937.4,1072.9 1942.5,1073.2 1947.7,1073.4 1952.8,1073.7 1957.9,1073.9 1963.0,1074.1 1968.2,1074.4 1973.3,1074.6 1978.4,1074.9 1983.5,1075.1 1988.7,1075.3 1993.8,1075.6 1998.9,1075.8 2004.0,1076.1 2009.2,1076.3 2014.3,1076.5 2019.4,1076.8 2024.5,1077.0 2029.7,1077.2 2034.8,1077.5 2039.9,1077.7 2045.0,1078.0 2050.2,1078.2 2055.3,1078.4 2060.4,1078.7 2065.5,1078.9 2070.7,1079.1 2075.8,1079.4 2080.9,1079.6 2086.0,1079.9 2091.2,1080.1 2096.3,1080.3 2101.4,1080.6 2106.5,1080.8 2111.7,1081.0 2116.8,1081.3 2121.9,1081.5 2127.0,1081.7 2132.2,1082.0 2137.3,1082.2 2142.4,1082.4 2147.5,1082.7 2152.7,1082.9 2157.8,1083.1 2162.9,1083.4 2168.0,1083.6 2173.2,1083.8 2178.3,1084.1 2183.4,1084.3 2188.5,1084.5 2193.7,1084.8 2198.8,1085.0 2203.9,1085.2 2209.0,1085.5 2214.2,1085.7 2219.3,1085.9 2224.4,1086.2 2229.5,1086.4 2234.7,1086.6 2239.8,1086.9 2244.9,1087.1 2250.0,1087.3 2255.2,1087.6 2260.3,1087.8 2265.4,1088.0 2270.5,1088.3 2275.7,1088.5 2280.8,1088.7 2287.0,1089.0"/>
<polyline stroke="#000000" points="236.9,818.2 241.0,818.5 246.2,818.8 251.3,819.1 256.4,819.4 261.5,819.7 266.6,820.1 271.8,820.4 276.9,820.7 282.0,821.0 287.1,821.3 292.3,821.6 297.4,822.0 302.5,822.3 307.6,822.6 312.8,822.9 317.9,823.3 323.0,823.6 328.1,823.9 333.3,824.3 338.4,824.6 343.5,824.9 348.6,825.3 353.8,825.6 358.9,826.0 364.0,826.3 369.1,826.7 374.3,827.0 379.4,827.4 384.5,827.7 389.6,828.1 394.8,828.5 399.9,828.8 405.0,829.2 410.1,829.6 415.3,830.0 420.4,830.3 425.5,830.7 430.6,831.1 435.8,831.5 440.9,831.9 446.0,832.3 451.1,832.7 456.3,833.1 461.4,833.5 466.5,833.9 471.6,834.3 476.8,834.8 481.9,835.2 487.0,835.6 492.1,836.1 497.3,836.5 502.4,837.0 507.5,837.4 512.6,837.9 517.8,838.3 522.9,838.8 528.0,839.3 533.1,839.8 538.3,840.3 543.4,840.8 548.5,841.3 553.6,841.8 558.8,842.3 563.9,842.9 569.0,843.4 574.1,843.9 579.3,844.5 584.4,845.1 589.5,845.7 594.6,846.2 599.8,846.9 604.9,847.5 610.0,848.1 615.1,848.7 620.3,849.4 625.4,850.0 630.5,850.7 635.6,851.4 640.8,852.1 645.9,852.8 651.0,853.6 656.1,854.3 661.3,855.1 666.4,855.9 671.5,856.7 676.6,857.6 681.8,858.4 686.9,859.3 692.0,860.2 697.1,861.2 702.3,862.1 707.4,863.1 712.5,864.2 717.6,865.2 722.8,866.3 727.9,867.4 733.0,868.6 738.1,869.8 743.3,871.0 748.4,872.3 753.5,873.6 758.6,874.9 763.8,876.4 768.9,877.8 774.0,879.3 779.1,880.9 784.3,882.5 789.4,884.2 794.5,885.9 799.6,887.7 804.8,889.6 809.9,891.5 815.0,893.5 820.1,895.5 825.3,897.7 830.4,899.9 835.5,902.1 840.6,904.4 845.8,906.8 850.9,909.2 856.0,911.7 861.1,914.3 866.3,916.9 871.4,919.5 876.5,922.2 881.6,924.9 886.8,927.6 891.9,930.3 897.0,933.1 902.1,935.8 907.3,938.5 912.4,941.2 917.5,943.9 922.6,946.5 927.8,949.1 932.9,951.7 938.0,954.2 943.1,956.7 948.3,959.0 953.4,961.4 958.5,963.6 963.6,965.8 968.8,968.0 973.9,970.0 979.0,972.0 984.1,973.9 989.3,975.8 994.4,977.6 999.5,979.4 1004.6,981.1 1009.8,982.7 1014.9,984.3 1020.0,985.8 1025.2,987.2 1030.3,988.7 1035.4,990.0 1040.5,991.3 1045.7,992.6 1050.8,993.9 1055.9,995.1 1061.0,996.2 1066.2,997.3 1071.3,998.4 1076.4,999.5 1081.5,1000.5 1086.7,1001.5 1091.8,1002.5 1096.9,1003.4 1102.0,1004.3 1107.2,1005.2 1112.3,1006.1 1117.4,1006.9 1122.5,1007.8 1127.7,1008.6 1132.8,1009.3 1137.9,1010.1 1143.0,1010.8 1148.2,1011.6 1153.3,1012.3 1158.4,1013.0 1163.5,1013.7 1168.7,1014.3 1173.8,1015.0 1178.9,1015.6 1184.0,1016.2 1189.2,1016.9 1194.3,1017.5 1199.4,1018.1 1204.5,1018.6 1209.7,1019.2 1214.8,1019.8 1219.9,1020.3 1225.0,1020.9 1230.2,1021.4 1235.3,1021.9 1240.4,1022.4 1245.5,1023.0 1250.7,1023.5 1255.8,1023.9 1260.9,1024.4 1266.0,1024.9 1271.2,1025.4 1276.3,1025.9 1281.4,1026.3 1286.5,1026.8 1291.7,1027.2 1296.8,1027.7 1301.9,1028.1 1307.0,1028.5 1312.2,1029.0 1317.3,1029.4 1322.4,1029.8 1327.5,1030.2 1332.7,1030.6 1337.8,1031.1 1342.9,1031.5 1348.0,1031.9 1353.2,1032.2 1358.3,1032.6 1363.4,1033.0 1368.5,1033.4 1373.7,1033.8 1378.8,1034.2 1383.9,1034.5 1389.0,1034.9 1394.2,1035.3 1399.3,1035.6 1404.4,1036.0 1409.5,1036.4 1414.7,1036.7 1419.8,1037.1 1424.9,1037.4 1430.0,1037.8 1435.2,1038.1 1440.3,1038.5 1445.4,1038.8 1450.5,1039.2 1455.7,1039.5 1460.8,1039.8 1465.9,1040.2 1471.0,1040.5 1476.2,1040.8 1481.3,1041.1 1486.4,1041.5 1491.5,1041.8 1496.7,1042.1 1501.8,1042.4 1506.9,1042.8 1512.0,1043.1 1517.2,1043.4 1522.3,1043.7 1527.4,1044.0 1532.5,1044.3 1537.7,1044.6 1542.8,1044.9 1547.9,1045.2 1553.0,1045.6 1558.2,1045.9 1563.3,1046.2 1568.4,1046.5 1573.5,1046.8 1578.7,1047.1 1583.8,1047.4 1588.9,1047.6 1594.0,1047.9 1599.2,1048.2 1604.3,1048.5 1609.4,1048.8 1614.5,1049.1 1619.7,1049.4 1624.8,1049.7 1629.9,1050.0 1635.0,1050.3 1640.2,1050.5 1645.3,1050.8 1650.4,1051.1 1655.5,1051.4 1660.7,1051.7 1665.8,1052.0 1670.9,1052.2 1676.0,1052.5 1681.2,1052.8 1686.3,1053.1 1691.4,1053.3 1696.5,1053.6 1701.7,1053.9 1706.8,1054.2 1711.9,1054.4 1717.0,1054.7 1722.2,1055.0 1727.3,1055.3 1732.4,1055.5 1737.5,1055.8 1742.7,1056.1 1747.8,1056.3 1752.9,1056.6 1758.0,1056.9 1763.2,1057.1 1768.3,1057.4 1773.4,1057.7 1778.5,1057.9 1783.7,1058.2 1788.8,1058.5 1793.9,1058.7 1799.0,1059.0 1804.2,1059.3 1809.3,1059.5 1814.4,1059.8 1819.5,1060.0 1824.7,1060.3 1829.8,1060.6 1834.9,1060.8 1840.0,1061.1 1845.2,1061.3 1850.3,1061.6 1855.4,1061.8 1860.5,1062.1 1865.7,1062.4 1870.8,1062.6 1875.9,1062.9 1881.0,1063.1 1886.2,1063.4 1891.3,1063.6 1896.4,1063.9 1901.5,1064.1 1906.7,1064.4 1911.8,1064.6 1916.9,1064.9 1922.0,1065.1 1927.2,1065.4 1932.3,1065.7 1937.4,1065.9 1942.5,1066.2 1947.7,1066.4 1952.8,1066.7 1957.9,1066.9 1963.0,1067.1 1968.2,1067.4 1973.3,1067.6 1978.4,1067.9 1983.5,1068.1 1988.7,1068.4 1993.8,1068.6 1998.9,1068.9 2004.0,1069.1 2009.2,1069.4 2014.3,1069.6 2019.4,1069.9 2024.5,1070.1 2029.7,1070.4 2034.8,1070.6 2039.9,1070.8 2045.0,1071.1 2050.2,1071.3 2055.3,1071.6 2060.4,1071.8 2065.5,1072.1 2070.7,1072.3 2075.8,1072.5 2080.9,1072.8 2086.0,1073.0 2091.2,1073.3 2096.3,1073.5 2101.4,1073.8 2106.5,1074.0 2111.7,1074.2 2116.8,1074.5 2121.9,1074.7 2127.0,1075.0 2132.2,1075.2 2137.3,1075.4 2142.4,1075.7 2147.5,1075.9 2152.7,1076.2 2157.8,1076.4 2162.9,1076.6 2168.0,1076.9 2173.2,1077.1 2178.3,1077.4 2183.4,1077.6 2188.5,1077.8 2193.7,1078.1 2198.8,1078.3 2203.9,1078.5 2209.0,1078.8 2214.2,1079.0 2219.3,1079.2 2224.4,1079.5 2229.5,1079.7 2234.7,1080.0 2239.8,1080.2 2244.9,1080.4 2250.0,1080.7 2255.2,1080.9 2260.3,1081.1 2265.4,1081.4 2270.5,1081.6 2275.7,1081.8 2280.8,1082.1 2287.0,1082.3"/>
<polyline stroke="#ff0000" points="236.9,814.0 241.0,814.3 246.2,814.6 251.3,814.9 256.4,815.1 261.5,815.4 266.6,815.7 271.8,816.0 276.9,816.3 282.0,816.6 287.1,816.9 292.3,817.2 297.4,817.5 302.5,817.8 307.6,818.1 312.8,818.4 317.9,818.7 323.0,819.0 328.1,819.3 333.3,819.7 338.4,820.0 343.5,820.3 348.6,820.6 353.8,820.9 358.9,821.2 364.0,821.5 369.1,821.9 374.3,822.2 379.4,822.5 384.5,822.8 389.6,823.2 394.8,823.5 399.9,823.8 405.0,824.2 410.1,824.5 415.3,824.8 420.4,825.2 425.5,825.5 430.6,825.9 435.8,826.2 440.9,826.6 446.0,826.9 451.1,827.3 456.3,827.6 461.4,828.0 466.5,828.4 471.6,828.7 476.8,829.1 481.9,829.5 487.0,829.8 492.1,830.2 497.3,830.6 502.4,831.0 507.5,831.4 512.6,831.8 517.8,832.2 522.9,832.6 528.0,833.0 533.1,833.4 538.3,833.8 543.4,834.2 548.5,834.6 553.6,835.1 558.8,835.5 563.9,835.9 569.0,836.4 574.1,836.8 579.3,837.3 584.4,837.7 589.5,838.2 594.6,838.7 599.8,839.2 604.9,839.6 610.0,840.1 615.1,840.6 620.3,841.1 625.4,841.7 630.5,842.2 635.6,842.7 640.8,843.2 645.9,843.8 651.0,844.3 656.1,844.9 661.3,845.5 666.4,846.1 671.5,846.7 676.6,847.3 681.8,847.9 686.9,848.5 692.0,849.2 697.1,849.8 702.3,850.5 707.4,851.2 712.5,851.9 717.6,852.6 722.8,853.4 727.9,854.1 733.0,854.9 738.1,855.7 743.3,856.5 748.4,857.3 753.5,858.2 758.6,859.1 763.8,860.0 768.9,860.9 774.0,861.9 779.1,862.8 784.3,863.9 789.4,864.9 794.5,866.0 799.6,867.1 804.8,868.2 809.9,869.4 815.0,870.6 820.1,871.9 825.3,873.2 830.4,874.6 835.5,876.0 840.6,877.4 845.8,878.9 850.9,880.4 856.0,882.0 861.1,883.7 866.3,885.4 871.4,887.2 876.5,889.0 881.6,890.9 886.8,892.9 891.9,895.0 897.0,897.1 902.1,899.2 907.3,901.5 912.4,903.8 917.5,906.1 922.6,908.5 927.8,911.0 932.9,913.6 938.0,916.1 943.1,918.8 948.3,921.4 953.4,924.1 958.5,926.8 963.6,929.6 968.8,932.3 973.9,935.0 979.0,937.8 984.1,940.5 989.3,943.1 994.4,945.8 999.5,948.4 1004.6,951.0 1009.8,953.5 1014.9,956.0 1020.0,958.4 1025.2,960.7 1030.3,963.0 1035.4,965.2 1040.5,967.4 1045.7,969.4 1050.8,971.5 1055.9,973.4 1061.0,975.3 1066.2,977.1 1071.3,978.9 1076.4,980.6 1081.5,982.2 1086.7,983.8 1091.8,985.3 1096.9,986.8 1102.0,988.3 1107.2,989.6 1112.3,991.0 1117.4,992.3 1122.5,993.5 1127.7,994.7 1132.8,995.9 1137.9,997.0 1143.0,998.1 1148.2,999.2 1153.3,1000.2 1158.4,1001.2 1163.5,1002.2 1168.7,1003.2 1173.8,1004.1 1178.9,1005.0 1184.0,1005.8 1189.2,1006.7 1194.3,1007.5 1199.4,1008.3 1204.5,1009.1 1209.7,1009.9 1214.8,1010.6 1219.9,1011.4 1225.0,1012.1 1230.2,1012.8 1235.3,1013.5 1240.4,1014.1 1245.5,1014.8 1250.7,1015.4 1255.8,1016.1 1260.9,1016.7 1266.0,1017.3 1271.2,1017.9 1276.3,1018.5 1281.4,1019.0 1286.5,1019.6 1291.7,1020.2 1296.8,1020.7 1301.9,1021.2 1307.0,1021.8 1312.2,1022.3 1317.3,1022.8 1322.4,1023.3 1327.5,1023.8 1332.7,1024.3 1337.8,1024.8 1342.9,1025.3 1348.0,1025.7 1353.2,1026.2 1358.3,1026.6 1363.4,1027.1 1368.5,1027.5 1373.7,1028.0 1378.8,1028.4 1383.9,1028.9 1389.0,1029.3 1394.2,1029.7 1399.3,1030.1 1404.4,1030.5 1409.5,1030.9 1414.7,1031.3 1419.8,1031.7 1424.9,1032.1 1430.0,1032.5 1435.2,1032.9 1440.3,1033.3 1445.4,1033.7 1450.5,1034.1 1455.7,1034.4 1460.8,1034.8 1465.9,1035.2 1471.0,1035.5 1476.2,1035.9 1481.3,1036.3 1486.4,1036.6 1491.5,1037.0 1496.7,1037.3 1501.8,1037.7 1506.9,1038.0 1512.0,1038.4 1517.2,1038.7 1522.3,1039.1 1527.4,1039.4 1532.5,1039.7 1537.7,1040.1 1542.8,1040.4 1547.9,1040.7 1553.0,1041.1 1558.2,1041.4 1563.3,1041.7 1568.4,1042.0 1573.5,1042.3 1578.7,1042.7 1583.8,1043.0 1588.9,1043.3 1594.0,1043.6 1599.2,1043.9 1604.3,1044.2 1609.4,1044.5 1614.5,1044.9 1619.7,1045.2 1624.8,1045.5 1629.9,1045.8 1635.0,1046.1 1640.2,1046.4 1645.3,1046.7 1650.4,1047.0 1655.5,1047.3 1660.7,1047.6 1665.8,1047.9 1670.9,1048.2 1676.0,1048.4 1681.2,1048.7 1686.3,1049.0 1691.4,1049.3 1696.5,1049.6 1701.7,1049.9 1706.8,1050.2 1711.9,1050.5 1717.0,1050.7 1722.2,1051.0 1727.3,1051.3 1732.4,1051.6 1737.5,1051.9 1742.7,1052.2 1747.8,1052.4 1752.9,1052.7 1758.0,1053.0 1763.2,1053.3 1768.3,1053.5 1773.4,1053.8 1778.5,1054.1 1783.7,1054.4 1788.8,1054.6 1793.9,1054.9 1799.0,1055.2 1804.2,1055.5 1809.3,1055.7 1814.4,1056.0 1819.5,1056.3 1824.7,1056.5 1829.8,1056.8 1834.9,1057.1 1840.0,1057.3 1845.2,1057.6 1850.3,1057.9 1855.4,1058.1 1860.5,1058.4 1865.7,1058.7 1870.8,1058.9 1875.9,1059.2 1881.0,1059.4 1886.2,1059.7 1891.3,1060.0 1896.4,1060.2 1901.5,1060.5 1906.7,1060.7 1911.8,1061.0 1916.9,1061.3 1922.0,1061.5 1927.2,1061.8 1932.3,1062.0 1937.4,1062.3 1942.5,1062.5 1947.7,1062.8 1952.8,1063.1 1957.9,1063.3 1963.0,1063.6 1968.2,1063.8 1973.3,1064.1 1978.4,1064.3 1983.5,1064.6 1988.7,1064.8 1993.8,1065.1 1998.9,1065.3 2004.0,1065.6 2009.2,1065.8 2014.3,1066.1 2019.4,1066.3 2024.5,1066.6 2029.7,1066.8 2034.8,1067.1 2039.9,1067.3 2045.0,1067.6 2050.2,1067.8 2055.3,1068.1 2060.4,1068.3 2065.5,1068.6 2070.7,1068.8 2075.8,1069.1 2080.9,1069.3 2086.0,1069.6 2091.2,1069.8 2096.3,1070.0 2101.4,1070.3 2106.5,1070.5 2111.7,1070.8 2116.8,1071.0 2121.9,1071.3 2127.0,1071.5 2132.2,1071.8 2137.3,1072.0 2142.4,1072.2 2147.5,1072.5 2152.7,1072.7 2157.8,1073.0 2162.9,1073.2 2168.0,1073.4 2173.2,1073.7 2178.3,1073.9 2183.4,1074.2 2188.5,1074.4 2193.7,1074.7 2198.8,1074.9 2203.9,1075.1 2209.0,1075.4 2214.2,1075.6 2219.3,1075.9 2224.4,1076.1 2229.5,1076.3 2234.7,1076.6 2239.8,1076.8 2244.9,1077.0 2250.0,1077.3 2255.2,1077.5 2260.3,1077.8 2265.4,1078.0 2270.5,1078.2 2275.7,1078.5 2280.8,1078.7 2287.0,1078.9"/>
<polyline stroke="#0000ff" points="236.9,806.1 241.0,806.4 246.2,806.7 251.3,806.9 256.4,807.2 261.5,807.5 266.6,807.7 271.8,808.0 276.9,808.3 282.0,808.5 287.1,808.8 292.3,809.1 297.4,809.4 302.5,809.6 307.6,809.9 312.8,810.2 317.9,810.5 323.0,810.7 328.1,811.0 333.3,811.3 338.4,811.6 343.5,811.8 348.6,812.1 353.8,812.4 358.9,812.7 364.0,813.0 369.1,813.3 374.3,813.5 379.4,813.8 384.5,814.1 389.6,814.4 394.8,814.7 399.9,815.0 405.0,815.3 410.1,815.6 415.3,815.9 420.4,816.2 425.5,816.4 430.6,816.7 435.8,817.0 440.9,817.3 446.0,817.6 451.1,817.9 456.3,818.2 461.4,818.6 466.5,818.9 471.6,819.2 476.8,819.5 481.9,819.8 487.0,820.1 492.1,820.4 497.3,820.7 502.4,821.0 507.5,821.4 512.6,821.7 517.8,822.0 522.9,822.3 528.0,822.7 533.1,823.0 538.3,823.3 543.4,823.6 548.5,824.0 553.6,824.3 558.8,824.6 563.9,825.0 569.0,825.3 574.1,825.7 579.3,826.0 584.4,826.4 589.5,826.7 594.6,827.1 599.8,827.4 604.9,827.8 610.0,828.2 615.1,828.5 620.3,828.9 625.4,829.3 630.5,829.6 635.6,830.0 640.8,830.4 645.9,830.8 651.0,831.2 656.1,831.6 661.3,831.9 666.4,832.3 671.5,832.7 676.6,833.2 681.8,833.6 686.9,834.0 692.0,834.4 697.1,834.8 702.3,835.3 707.4,835.7 712.5,836.1 717.6,836.6 722.8,837.0 727.9,837.5 733.0,837.9 738.1,838.4 743.3,838.9 748.4,839.4 753.5,839.9 758.6,840.3 763.8,840.8 768.9,841.4 774.0,841.9 779.1,842.4 784.3,842.9 789.4,843.5 794.5,844.0 799.6,844.6 804.8,845.2 809.9,845.7 815.0,846.3 820.1,846.9 825.3,847.6 830.4,848.2 835.5,848.8 840.6,849.5 845.8,850.1 850.9,850.8 856.0,851.5 861.1,852.2 866.3,853.0 871.4,853.7 876.5,854.5 881.6,855.2 886.8,856.0 891.9,856.9 897.0,857.7 902.1,858.6 907.3,859.5 912.4,860.4 917.5,861.3 922.6,862.3 927.8,863.3 932.9,864.3 938.0,865.4 943.1,866.5 948.3,867.6 953.4,868.7 958.5,869.9 963.6,871.2 968.8,872.5 973.9,873.8 979.0,875.1 984.1,876.6 989.3,878.0 994.4,879.5 999.5,881.1 1004.6,882.7 1009.8,884.4 1014.9,886.2 1020.0,888.0 1025.2,889.9 1030.3,891.8 1035.4,893.8 1040.5,895.8 1045.7,898.0 1050.8,900.2 1055.9,902.4 1061.0,904.8 1066.2,907.1 1071.3,909.6 1076.4,912.1 1081.5,914.7 1086.7,917.3 1091.8,919.9 1096.9,922.6 1102.0,925.3 1107.2,928.0 1112.3,930.7 1117.4,933.5 1122.5,936.2 1127.7,938.9 1132.8,941.6 1137.9,944.3 1143.0,946.9 1148.2,949.5 1153.3,952.1 1158.4,954.6 1163.5,957.0 1168.7,959.4 1173.8,961.7 1178.9,963.9 1184.0,966.1 1189.2,968.3 1194.3,970.3 1199.4,972.3 1204.5,974.2 1209.7,976.1 1214.8,977.9 1219.9,979.6 1225.0,981.3 1230.2,982.9 1235.3,984.5 1240.4,986.0 1245.5,987.4 1250.7,988.9 1255.8,990.2 1260.9,991.5 1266.0,992.8 1271.2,994.0 1276.3,995.2 1281.4,996.4 1286.5,997.5 1291.7,998.6 1296.8,999.6 1301.9,1000.7 1307.0,1001.7 1312.2,1002.6 1317.3,1003.6 1322.4,1004.5 1327.5,1005.4 1332.7,1006.2 1337.8,1007.1 1342.9,1007.9 1348.0,1008.7 1353.2,1009.5 1358.3,1010.2 1363.4,1011.0 1368.5,1011.7 1373.7,1012.4 1378.8,1013.1 1383.9,1013.8 1389.0,1014.4 1394.2,1015.1 1399.3,1015.7 1404.4,1016.3 1409.5,1016.9 1414.7,1017.6 1419.8,1018.1 1424.9,1018.7 1430.0,1019.3 1435.2,1019.9 1440.3,1020.4 1445.4,1020.9 1450.5,1021.5 1455.7,1022.0 1460.8,1022.5 1465.9,1023.0 1471.0,1023.5 1476.2,1024.0 1481.3,1024.5 1486.4,1025.0 1491.5,1025.5 1496.7,1025.9 1501.8,1026.4 1506.9,1026.8 1512.0,1027.3 1517.2,1027.7 1522.3,1028.2 1527.4,1028.6 1532.5,1029.0 1537.7,1029.5 1542.8,1029.9 1547.9,1030.3 1553.0,1030.7 1558.2,1031.1 1563.3,1031.5 1568.4,1031.9 1573.5,1032.3 1578.7,1032.7 1583.8,1033.1 1588.9,1033.5 1594.0,1033.8 1599.2,1034.2 1604.3,1034.6 1609.4,1035.0 1614.5,1035.3 1619.7,1035.7 1624.8,1036.1 1629.9,1036.4 1635.0,1036.8 1640.2,1037.1 1645.3,1037.5 1650.4,1037.8 1655.5,1038.2 1660.7,1038.5 1665.8,1038.9 1670.9,1039.2 1676.0,1039.5 1681.2,1039.9 1686.3,1040.2 1691.4,1040.5 1696.5,1040.9 1701.7,1041.2 1706.8,1041.5 1711.9,1041.8 1717.0,1042.2 1722.2,1042.5 1727.3,1042.8 1732.4,1043.1 1737.5,1043.4 1742.7,1043.7 1747.8,1044.1 1752.9,1044.4 1758.0,1044.7 1763.2,1045.0 1768.3,1045.3 1773.4,1045.6 1778.5,1045.9 1783.7,1046.2 1788.8,1046.5 1793.9,1046.8 1799.0,1047.1 1804.2,1047.4 1809.3,1047.7 1814.4,1048.0 1819.5,1048.3 1824.7,1048.6 1829.8,1048.9 1834.9,1049.2 1840.0,1049.4 1845.2,1049.7 1850.3,1050.0 1855.4,1050.3 1860.5,1050.6 1865.7,1050.9 1870.8,1051.2 1875.9,1051.4 1881.0,1051.7 1886.2,1052.0 1891.3,1052.3 1896.4,1052.6 1901.5,1052.8 1906.7,1053.1 1911.8,1053.4 1916.9,1053.7 1922.0,1053.9 1927.2,1054.2 1932.3,1054.5 1937.4,1054.8 1942.5,1055.0 1947.7,1055.3 1952.8,1055.6 1957.9,1055.8 1963.0,1056.1 1968.2,1056.4 1973.3,1056.6 1978.4,1056.9 1983.5,1057.2 1988.7,1057.4 1993.8,1057.7 1998.9,1058.0 2004.0,1058.2 2009.2,1058.5 2014.3,1058.8 2019.4,1059.0 2024.5,1059.3 2029.7,1059.6 2034.8,1059.8 2039.9,1060.1 2045.0,1060.3 2050.2,1060.6 2055.3,1060.9 2060.4,1061.1 2065.5,1061.4 2070.7,1061.6 2075.8,1061.9 2080.9,1062.1 2086.0,1062.4 2091.2,1062.7 2096.3,1062.9 2101.4,1063.2 2106.5,1063.4 2111.7,1063.7 2116.8,1063.9 2121.9,1064.2 2127.0,1064.4 2132.2,1064.7 2137.3,1064.9 2142.4,1065.2 2147.5,1065.4 2152.7,1065.7 2157.8,1065.9 2162.9,1066.2 2168.0,1066.4 2173.2,1066.7 2178.3,1066.9 2183.4,1067.2 2188.5,1067.4 2193.7,1067.7 2198.8,1067.9 2203.9,1068.2 2209.0,1068.4 2214.2,1068.7 2219.3,1068.9 2224.4,1069.2 2229.5,1069.4 2234.7,1069.7 2239.8,1069.9 2244.9,1070.1 2250.0,1070.4 2255.2,1070.6 2260.3,1070.9 2265.4,1071.1 2270.5,1071.4 2275.7,1071.6 2280.8,1071.9 2287.0,1072.1"/>
<polyline stroke="#00ff00" points="236.9,784.9 241.0,785.1 246.2,785.3 251.3,785.6 256.4,785.8 261.5,786.0 266.6,786.3 271.8,786.5 276.9,786.8 282.0,787.0 287.1,787.2 292.3,787.5 297.4,787.7 302.5,787.9 307.6,788.2 312.8,788.4 317.9,788.7 323.0,788.9 328.1,789.1 333.3,789.4 338.4,789.6 343.5,789.9 348.6,790.1 353.8,790.4 358.9,790.6 364.0,790.8 369.1,791.1 374.3,791.3 379.4,791.6 384.5,791.8 389.6,792.0 394.8,792.3 399.9,792.5 405.0,792.8 410.1,793.0 415.3,793.3 420.4,793.5 425.5,793.8 430.6,794.0 435.8,794.2 440.9,794.5 446.0,794.7 451.1,795.0 456.3,795.2 461.4,795.5 466.5,795.7 471.6,796.0 476.8,796.2 481.9,796.5 487.0,796.7 492.1,797.0 497.3,797.2 502.4,797.5 507.5,797.7 512.6,798.0 517.8,798.2 522.9,798.5 528.0,798.7 533.1,799.0 538.3,799.2 543.4,799.5 548.5,799.7 553.6,800.0 558.8,800.2 563.9,800.5 569.0,800.7 574.1,801.0 579.3,801.3 584.4,801.5 589.5,801.8 594.6,802.0 599.8,802.3 604.9,802.5 610.0,802.8 615.1,803.1 620.3,803.3 625.4,803.6 630.5,803.8 635.6,804.1 640.8,804.4 645.9,804.6 651.0,804.9 656.1,805.1 661.3,805.4 666.4,805.7 671.5,805.9 676.6,806.2 681.8,806.5 686.9,806.7 692.0,807.0 697.1,807.3 702.3,807.5 707.4,807.8 712.5,808.1 717.6,808.3 722.8,808.6 727.9,808.9 733.0,809.2 738.1,809.4 743.3,809.7 748.4,810.0 753.5,810.3 758.6,810.5 763.8,810.8 768.9,811.1 774.0,811.4 779.1,811.6 784.3,811.9 789.4,812.2 794.5,812.5 799.6,812.8 804.8,813.1 809.9,813.3 815.0,813.6 820.1,813.9 825.3,814.2 830.4,814.5 835.5,814.8 840.6,815.1 845.8,815.4 850.9,815.6 856.0,815.9 861.1,816.2 866.3,816.5 871.4,816.8 876.5,817.1 881.6,817.4 886.8,817.7 891.9,818.0 897.0,818.3 902.1,818.6 907.3,818.9 912.4,819.3 917.5,819.6 922.6,819.9 927.8,820.2 932.9,820.5 938.0,820.8 943.1,821.1 948.3,821.5 953.4,821.8 958.5,822.1 963.6,822.4 968.8,822.7 973.9,823.1 979.0,823.4 984.1,823.7 989.3,824.1 994.4,824.4 999.5,824.7 1004.6,825.1 1009.8,825.4 1014.9,825.8 1020.0,826.1 1025.2,826.5 1030.3,826.8 1035.4,827.2 1040.5,827.5 1045.7,827.9 1050.8,828.3 1055.9,828.6 1061.0,829.0 1066.2,829.4 1071.3,829.7 1076.4,830.1 1081.5,830.5 1086.7,830.9 1091.8,831.3 1096.9,831.7 1102.0,832.1 1107.2,832.5 1112.3,832.9 1117.4,833.3 1122.5,833.7 1127.7,834.1 1132.8,834.5 1137.9,834.9 1143.0,835.4 1148.2,835.8 1153.3,836.3 1158.4,836.7 1163.5,837.2 1168.7,837.6 1173.8,838.1 1178.9,838.5 1184.0,839.0 1189.2,839.5 1194.3,840.0 1199.4,840.5 1204.5,841.0 1209.7,841.5 1214.8,842.0 1219.9,842.6 1225.0,843.1 1230.2,843.6 1235.3,844.2 1240.4,844.8 1245.5,845.3 1250.7,845.9 1255.8,846.5 1260.9,847.1 1266.0,847.7 1271.2,848.4 1276.3,849.0 1281.4,849.7 1286.5,850.3 1291.7,851.0 1296.8,851.7 1301.9,852.4 1307.0,853.2 1312.2,853.9 1317.3,854.7 1322.4,855.5 1327.5,856.3 1332.7,857.1 1337.8,858.0 1342.9,858.8 1348.0,859.7 1353.2,860.6 1358.3,861.6 1363.4,862.6 1368.5,863.6 1373.7,864.6 1378.8,865.7 1383.9,866.8 1389.0,867.9 1394.2,869.1 1399.3,870.3 1404.4,871.5 1409.5,872.8 1414.7,874.2 1419.8,875.5 1424.9,877.0 1430.0,878.5 1435.2,880.0 1440.3,881.6 1445.4,883.2 1450.5,884.9 1455.7,886.7 1460.8,888.5 1465.9,890.4 1471.0,892.3 1476.2,894.4 1481.3,896.4 1486.4,898.6 1491.5,900.8 1496.7,903.1 1501.8,905.4 1506.9,907.8 1512.0,910.3 1517.2,912.8 1522.3,915.4 1527.4,918.0 1532.5,920.7 1537.7,923.3 1542.8,926.0 1547.9,928.8 1553.0,931.5 1558.2,934.2 1563.3,937.0 1568.4,939.7 1573.5,942.4 1578.7,945.0 1583.8,947.7 1588.9,950.2 1594.0,952.8 1599.2,955.3 1604.3,957.7 1609.4,960.0 1614.5,962.3 1619.7,964.6 1624.8,966.7 1629.9,968.8 1635.0,970.9 1640.2,972.9 1645.3,974.8 1650.4,976.6 1655.5,978.4 1660.7,980.1 1665.8,981.8 1670.9,983.4 1676.0,984.9 1681.2,986.4 1686.3,987.8 1691.4,989.2 1696.5,990.6 1701.7,991.9 1706.8,993.2 1711.9,994.4 1717.0,995.6 1722.2,996.7 1727.3,997.8 1732.4,998.9 1737.5,999.9 1742.7,1001.0 1747.8,1001.9 1752.9,1002.9 1758.0,1003.8 1763.2,1004.7 1768.3,1005.6 1773.4,1006.5 1778.5,1007.3 1783.7,1008.1 1788.8,1008.9 1793.9,1009.7 1799.0,1010.4 1804.2,1011.2 1809.3,1011.9 1814.4,1012.6 1819.5,1013.3 1824.7,1014.0 1829.8,1014.6 1834.9,1015.3 1840.0,1015.9 1845.2,1016.5 1850.3,1017.1 1855.4,1017.7 1860.5,1018.3 1865.7,1018.9 1870.8,1019.5 1875.9,1020.0 1881.0,1020.6 1886.2,1021.1 1891.3,1021.6 1896.4,1022.1 1901.5,1022.7 1906.7,1023.2 1911.8,1023.7 1916.9,1024.2 1922.0,1024.6 1927.2,1025.1 1932.3,1025.6 1937.4,1026.1 1942.5,1026.5 1947.7,1027.0 1952.8,1027.4 1957.9,1027.9 1963.0,1028.3 1968.2,1028.7 1973.3,1029.2 1978.4,1029.6 1983.5,1030.0 1988.7,1030.4 1993.8,1030.8 1998.9,1031.2 2004.0,1031.6 2009.2,1032.0 2014.3,1032.4 2019.4,1032.8 2024.5,1033.2 2029.7,1033.6 2034.8,1034.0 2039.9,1034.3 2045.0,1034.7 2050.2,1035.1 2055.3,1035.4 2060.4,1035.8 2065.5,1036.2 2070.7,1036.5 2075.8,1036.9 2080.9,1037.2 2086.0,1037.6 2091.2,1037.9 2096.3,1038.3 2101.4,1038.6 2106.5,1039.0 2111.7,1039.3 2116.8,1039.6 2121.9,1040.0 2127.0,1040.3 2132.2,1040.6 2137.3,1041.0 2142.4,1041.3 2147.5,1041.6 2152.7,1041.9 2157.8,1042.3 2162.9,1042.6 2168.0,1042.9 2173.2,1043.2 2178.3,1043.5 2183.4,1043.8 2188.5,1044.1 2193.7,1044.5 2198.8,1044.8 2203.9,1045.1 2209.0,1045.4 2214.2,1045.7 2219.3,1046.0 2224.4,1046.3 2229.5,1046.6 2234.7,1046.9 2239.8,1047.2 2244.9,1047.5 2250.0,1047.8 2255.2,1048.1 2260.3,1048.4 2265.4,1048.7 2270.5,1048.9 2275.7,1049.2 2280.8,1049.5 2287.0,1049.8"/>
</g>
</g>
<g id="legend1">
<rect x="1879.5" y="100.5" width="389" height="260.0" class="ax"/>
<line x1="1903.8" y1="146.5" x2="2037.6" y2="146.5" stroke="#ff00ff" class="ls"/>
<text><tspan x="2047.83" y="182.57" font-size="78.10" class="fi">f</tspan><tspan x="2076.10" y="180.50" font-size="45.7" class="it">e</tspan><tspan x="2094.69" y="172.95" font-size="62.25" textLength="50.81" lengthAdjust="spacingAndGlyphs">=</tspan><tspan x="2143.10" y="180.30" font-size="81.70" letter-spacing="1.15">-50</tspan></text>
<line x1="1903.8" y1="225.6" x2="2037.6" y2="225.6" stroke="#000000" class="ls"/>
<text><tspan x="2043.83" y="262.38" font-size="78.10" class="fi">f</tspan><tspan x="2071.90" y="260.70" font-size="45.7" class="it">e</tspan><tspan x="2090.57" y="253.03" font-size="62.64" textLength="51.05" lengthAdjust="spacingAndGlyphs">=</tspan><tspan x="2138.80" y="260.40" font-size="81.70" letter-spacing="2.40">50</tspan></text>
<line x1="1903.8" y1="304.5" x2="2037.6" y2="304.5" stroke="#ff0000" class="ls"/>
<text><tspan x="2046.83" y="341.47" font-size="78.10" class="fi">f</tspan><tspan x="2075.00" y="339.70" font-size="45.7" class="it">e</tspan><tspan x="2093.58" y="331.85" font-size="62.25" textLength="50.93" lengthAdjust="spacingAndGlyphs">=</tspan><tspan x="2145.10" y="339.40" font-size="81.70" letter-spacing="-1.55">100</tspan></text>
</g>
<g id="legend2">
<rect x="1879.5" y="727.5" width="389" height="168.0" class="ax"/>
<line x1="1903.8" y1="767.5" x2="2037.6" y2="767.5" stroke="#0000ff" class="ls"/>
<text><tspan x="2040.73" y="806.68" font-size="78.10" class="fi">f</tspan><tspan x="2068.80" y="804.60" font-size="45.7" class="it">e</tspan><tspan x="2086.45" y="797.84" font-size="64.58" textLength="51.29" lengthAdjust="spacingAndGlyphs">=</tspan><tspan x="2133.00" y="804.30" font-size="81.70" letter-spacing="1.50">200</tspan></text>
<line x1="1903.8" y1="846.4" x2="2037.6" y2="846.4" stroke="#00ff00" class="ls"/>
<text><tspan x="2036.73" y="879.58" font-size="78.10" class="fi">f</tspan><tspan x="2064.70" y="877.70" font-size="45.7" class="it">e</tspan><tspan x="2083.36" y="870.11" font-size="63.03" textLength="51.17" lengthAdjust="spacingAndGlyphs">=</tspan><tspan x="2132.00" y="877.70" font-size="81.70" letter-spacing="-0.05">500</tspan></text>
</g>
<g id="ticklabels">
<text x="168.00" y="121.90" font-size="81.70">1</text>
<text x="128.00" y="341.40" font-size="81.70">0.5</text>
<text x="169.05" y="562.35" font-size="81.70">0</text>
<text x="101.00" y="748.40" font-size="81.70">200</text>
<text x="169.05" y="967.45" font-size="81.70">0</text>
<text x="85.97" y="1185.45" font-size="81.70">-200</text>
<text x="165.60" y="1229.20" font-size="81.70">-400</text>
<text x="456.90" y="1229.20" font-size="81.70">-200</text>
<text x="803.60" y="1229.20" font-size="81.70">0</text>
<text x="1060.10" y="1229.20" font-size="81.70">200</text>
<text x="1352.90" y="1229.20" font-size="81.70">400</text>
<text x="1646.90" y="1229.20" font-size="81.70">600</text>
<text x="1943.90" y="1229.20" font-size="81.70">800</text>
<text x="2218.80" y="1229.20" font-size="81.70">1000</text>
</g>
<g id="labels">
<text x="1053.90" y="1320.00" font-size="81.70" letter-spacing="0.72">Frequency(Hz)</text>
<text transform="translate(97.1 564.2) rotate(-90)" font-size="81.70" letter-spacing="0.69">Magnitude(abs)</text>
<text transform="translate(100.1 1123.0) rotate(-90)" font-size="81.70" letter-spacing="0.78">Phase(deg)</text>
</g>
</svg>
</body></html>
